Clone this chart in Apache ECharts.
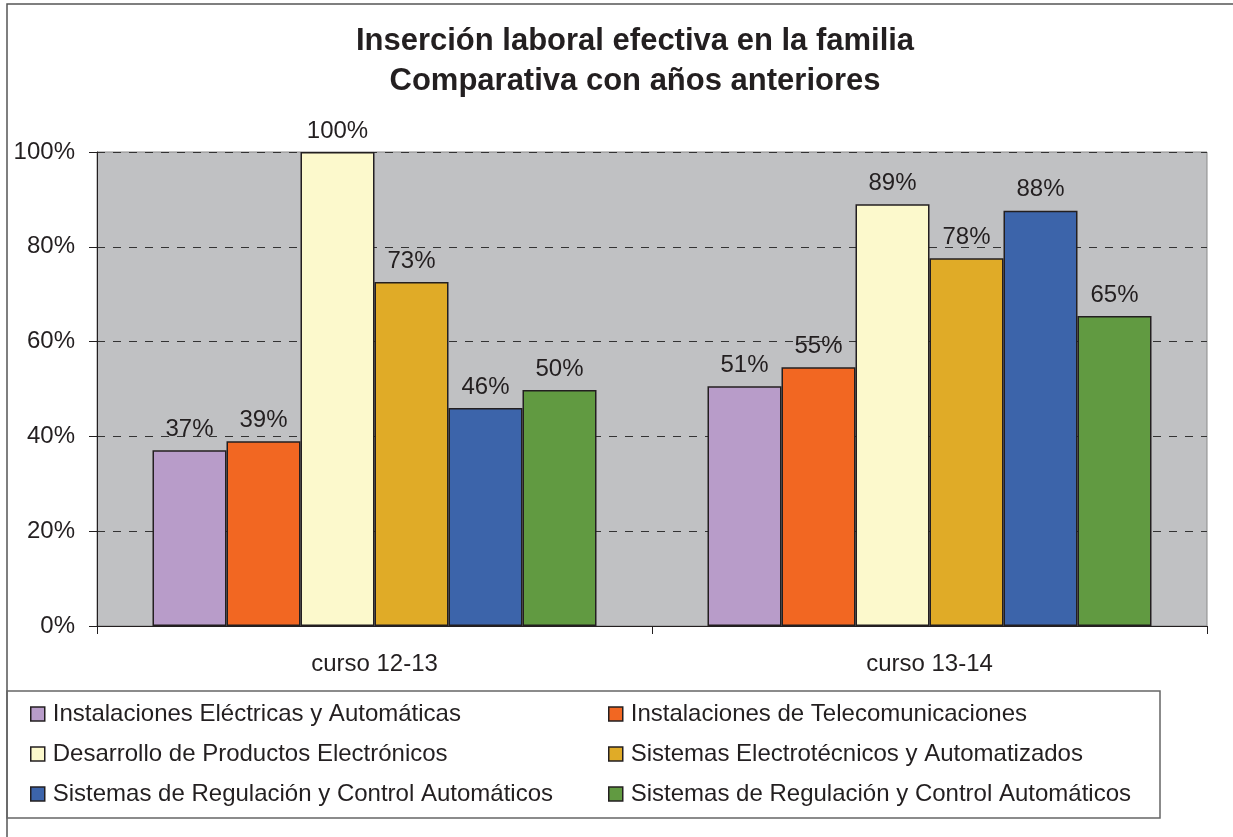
<!DOCTYPE html>
<html>
<head>
<meta charset="utf-8">
<title>Inserción laboral efectiva en la familia</title>
<script src="https://cdn.jsdelivr.net/npm/echarts@6/dist/echarts.min.js"></script>
<style>
	html, body { margin: 0; padding: 0; background: #fff; }
	#chart { width: 1233px; height: 837px; }
</style>
</head>
<body>
<div id="chart"></div>
<script>
	// datos
	var cursos = ['curso 12-13', 'curso 13-14'];
	var familias = [
		'Instalaciones Eléctricas y Automáticas',
		'Instalaciones de Telecomunicaciones',
		'Desarrollo de Productos Electrónicos',
		'Sistemas Electrotécnicos y Automatizados',
		'Sistemas de Regulación y Control Automáticos',
		'Sistemas de Regulación y Control Automáticos '
	];
	var colores = ['#B89CC9', '#F26722', '#FCF9CC', '#E0AB27', '#3C64AA', '#619A41'];
	var instElectricas = [37.1, 50.6];
	var instTeleco = [39.0, 54.6];
	var desarrollo = [100, 89.0];
	var sistElectro = [72.6, 77.6];
	var sistRegulacion = [46.0, 87.6];
	var sistRegulacion2 = [49.8, 65.4];
	var yTicks = [0, 20, 40, 60, 80, 100];

	var valores = [instElectricas, instTeleco, desarrollo, sistElectro, sistRegulacion, sistRegulacion2];
	var textColor = '#231F20';
	var fontFamily = '"Liberation Sans", Arial, sans-serif';

	var series = familias.map(function (name, i) {
		return {
			name: name,
			type: 'bar',
			data: valores[i],
			barGap: '0%',
			barCategoryGap: '20%',
			itemStyle: { color: colores[i], borderColor: textColor, borderWidth: 1.5 },
			label: {
				show: true,
				position: 'top',
				distance: 9,
				color: textColor,
				fontSize: 24,
				fontFamily: fontFamily,
				formatter: function (p) { return Math.round(p.value) + '%'; }
			}
		};
	});

	// una leyenda por elemento para fijar las dos columnas
	var legendX = [30, 608];
	var legendY = [702, 742, 782];
	var legends = familias.map(function (name, i) {
		return {
			data: [name],
			left: legendX[i % 2],
			top: legendY[Math.floor(i / 2)],
			padding: 0,
			itemWidth: 14,
			itemHeight: 14,
			icon: 'rect',
			selectedMode: false,
			itemStyle: { borderColor: textColor, borderWidth: 1.5 },
			textStyle: { color: textColor, fontSize: 24, fontFamily: fontFamily, padding: [0, 0, 0, 3] }
		};
	});

	var chart = echarts.init(document.getElementById('chart'));
	chart.setOption({
		animation: false,
		backgroundColor: '#fff',
		title: {
			text: 'Inserción laboral efectiva en la familia\nComparativa con años anteriores',
			left: 630,
			textAlign: 'center',
			top: 16,
			textStyle: { color: textColor, fontSize: 31, fontWeight: 'bold', fontFamily: fontFamily, lineHeight: 40 }
		},
		legend: legends,
		grid: {
			left: 97,
			right: 26,
			top: 152,
			bottom: 211,
			show: true,
			backgroundColor: '#C0C1C3',
			borderColor: '#8A8A8A',
			borderWidth: 1
		},
		xAxis: {
			type: 'category',
			data: cursos,
			axisLine: { lineStyle: { color: textColor, width: 1 } },
			axisTick: { show: true, length: 8, lineStyle: { color: textColor } },
			axisLabel: { color: textColor, fontSize: 24, fontFamily: fontFamily, margin: 26 }
		},
		yAxis: {
			type: 'value',
			min: 0,
			max: 100,
			interval: 20,
			axisLine: { show: true, lineStyle: { color: textColor, width: 1 } },
			axisTick: { show: true, length: 8, lineStyle: { color: textColor } },
			axisLabel: {
				color: textColor,
				fontSize: 24,
				fontFamily: fontFamily,
				margin: 22,
				formatter: function (v) { return yTicks.indexOf(v) >= 0 ? v + '%' : ''; }
			},
			splitLine: { show: true, lineStyle: { color: '#333', type: [8, 8], width: 1 } }
		},
		graphic: [
			{
				type: 'rect',
				shape: { x: 7, y: 4, width: 1260, height: 860 },
				style: { fill: 'none', stroke: '#555', lineWidth: 1.5 },
				silent: true
			},
			{
				type: 'rect',
				shape: { x: 7, y: 691, width: 1153, height: 127 },
				style: { fill: 'none', stroke: '#666', lineWidth: 1.5 },
				silent: true
			}
		],
		series: series
	});
</script>
</body>
</html>
